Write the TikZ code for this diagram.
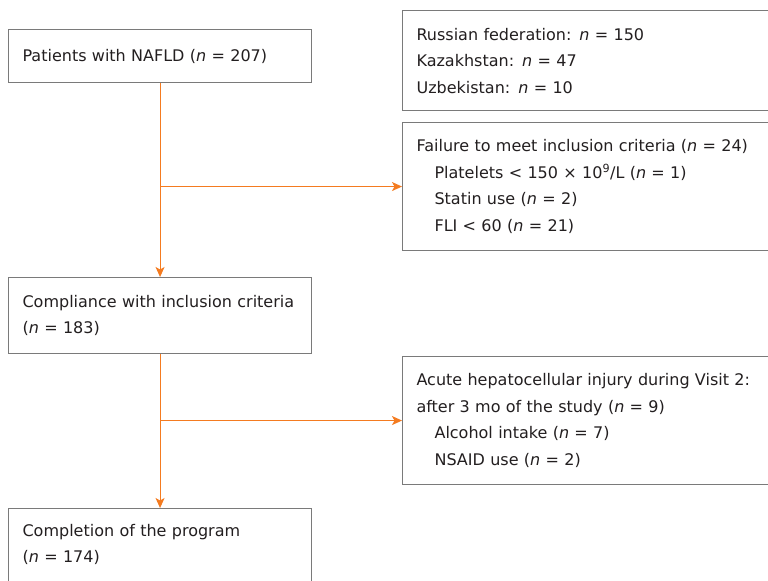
\documentclass[tikz,border=0pt]{standalone}
\usepackage{fontspec}
\setmainfont[WordSpace=1.12]{DejaVu Sans}
\usetikzlibrary{arrows.meta}
\definecolor{floworange}{HTML}{F47B20}
\definecolor{boxgray}{HTML}{7A7A7A}
\definecolor{textdark}{HTML}{231F20}
\newcommand{\itn}{\textit{n}}
\newcommand{\subgap}{\hspace*{18bp}}
\tikzset{
	box/.style={draw=boxgray, line width=1.1bp, fill=white, anchor=north west, align=left,
		text=textdark, inner ysep=0bp, inner xsep=14bp},
	leftbox/.style={box, text width=275bp},
	rightbox/.style={box, text width=392bp},
	flow/.style={draw=floworange, line width=1bp, -{Stealth[length=10bp,width=9bp,inset=2.5bp]}}
}

\begin{document}
\begin{tikzpicture}[x=1bp, y=-1bp, font=\fontsize{16bp}{26.5bp}\selectfont]
	\useasboundingbox (0,0) rectangle (768,581);
	\clip (0,0) rectangle (768,581);
	
	\node[leftbox, minimum height=53bp] (nafld) at (8,29) {Patients with NAFLD (\itn{} = 207)};
	\node[rightbox, minimum height=100bp] (country) at (402,10) {Russian federation: \itn{} = 150\\Kazakhstan: \itn{} = 47\\Uzbekistan: \itn{} = 10};
	\node[rightbox, minimum height=128bp] (fail) at (402,122) {Failure to meet inclusion criteria (\itn{} = 24)\\
		\subgap Platelets < 150 × 10\textsuperscript{9}/L (\itn{} = 1)\\
		\subgap Statin use (\itn{} = 2)\\
		\subgap FLI < 60 (\itn{} = 21)};
	\node[leftbox, minimum height=76bp] (compl) at (8,277) {Compliance with inclusion criteria\\(\itn{} = 183)};
	\node[rightbox, minimum height=128bp] (acute) at (402,356) {Acute hepatocellular injury during Visit 2:\\
		after 3 mo of the study (\itn{} = 9)\\
		\subgap Alcohol intake (\itn{} = 7)\\
		\subgap NSAID use (\itn{} = 2)};
	\node[leftbox, inner ysep=15.5bp, text depth=45bp] (done) at (8,508) {Completion of the program\\(\itn{} = 174)};
	
	\draw[flow] (nafld.south) -- (compl.north);
	\draw[flow] (nafld.south |- fail.west) -- (fail.west);
	\draw[flow] (compl.south) -- (done.north);
	\draw[flow] (compl.south |- acute.west) -- (acute.west);
\end{tikzpicture}
\end{document}
